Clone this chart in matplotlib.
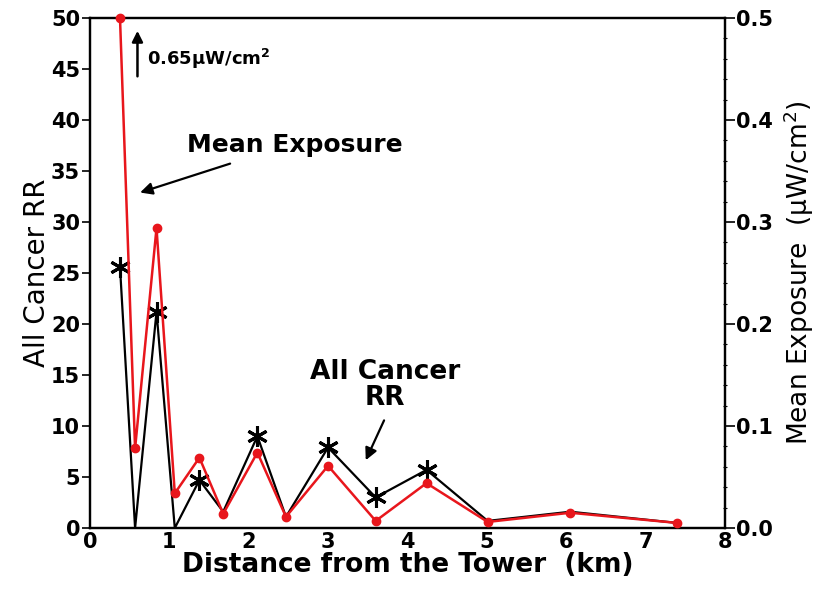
"""
    Gráfico de RR de cáncer y exposición media frente a la distancia a la torre
"""
import numpy as np
import matplotlib.pyplot as plt
from matplotlib.ticker import MultipleLocator

plt.rcParams['font.family'] = ['DejaVu Sans']
plt.rcParams['font.weight'] = 'bold'
plt.rcParams['mathtext.default'] = 'bf'

# Datos
distance_km = [0.38, 0.57, 0.84, 1.07, 1.38, 1.68, 2.11, 2.47, 3.0, 3.6, 4.24, 5.01, 6.05, 7.4]
cancer_rr = [25.6, 0.0, 21.2, 0.0, 4.7, 1.6, 9.0, 1.1, 7.9, 3.0, 5.7, 0.7, 1.6, 0.5]
significant = [True, False, True, False, True, False, True, False, True, True, True, False, False, False]
mean_exposure = [0.65, 0.078, 0.294, 0.034, 0.069, 0.014, 0.074, 0.011, 0.061, 0.007, 0.044, 0.006, 0.015, 0.005]

# Configuración del gráfico
fig = plt.figure(figsize=(8.24, 5.96), dpi=100)
ax = fig.add_axes([0.109, 0.114, 0.771, 0.856])
ax2 = ax.twinx()

# Serie RR (eje izquierdo)
ax.plot(distance_km, cancer_rr, color='black', lw=1.6, zorder=3)
star_x = [d for d, s in zip(distance_km, significant) if s]
star_y = [r for r, s in zip(cancer_rr, significant) if s]
ax.plot(star_x, star_y, linestyle='none', marker=(6, 2, 0), markersize=15,
        color='black', markeredgewidth=2.2, zorder=4)

# Serie exposición (eje derecho), recortada a 0.5
ax2.plot(distance_km, np.clip(mean_exposure, 0, 0.5), color='#e8161c', lw=1.8,
         marker='o', markersize=6, clip_on=False, zorder=5)

ax.set_xlim(0, 8)
ax.set_ylim(0, 50)
ax2.set_ylim(0, 0.5)
ax.set_xticks(range(0, 9))
ax.set_yticks(range(0, 51, 5))
ax2.set_yticks(np.arange(0, 0.51, 0.1))
ax2.set_yticklabels(['0.0', '0.1', '0.2', '0.3', '0.4', '0.5'])
ax2.yaxis.set_minor_locator(MultipleLocator(0.02))

ax.tick_params(axis='x', length=0, labelsize=15, pad=3)
ax.tick_params(axis='y', length=6, width=1.2, labelsize=15, pad=1)
ax2.tick_params(axis='y', which='major', length=7, width=1.2, labelsize=15, pad=1)
ax2.tick_params(axis='y', which='minor', length=3, width=0.8, direction='inout')
for sp in ax2.spines.values():
    sp.set_linewidth(1.6)
for sp in ax.spines.values():
    sp.set_linewidth(1.6)

ax.set_ylabel('All Cancer RR', fontsize=20, fontweight='normal', labelpad=0)
ax.set_xlabel('Distance from the Tower  (km)', fontsize=19, fontweight='bold', labelpad=0)
ax2.set_ylabel('Mean Exposure  (µW/cm$^\\mathregular{2}$)', fontsize=19, fontweight='normal',
               rotation=90, labelpad=6)

# Anotaciones
ax.annotate('', xy=(0.6, 49.0), xytext=(0.6, 44.0),
            arrowprops=dict(arrowstyle='-|>', color='black', lw=1.8, mutation_scale=16))
ax.text(0.72, 46.0, '0.65µW/cm$^\\mathbf{2}$', fontsize=13, fontweight='bold', va='center')

ax.text(1.23, 37.5, 'Mean Exposure', fontsize=18, fontweight='bold', va='center')
ax.annotate('', xy=(0.6, 32.8), xytext=(1.8, 35.8),
            arrowprops=dict(arrowstyle='-|>', color='black', lw=1.6, mutation_scale=18))

ax.text(3.72, 14.0, 'All Cancer\nRR', fontsize=19, fontweight='bold', ha='center',
        va='center', linespacing=1.0)
ax.annotate('', xy=(3.46, 6.4), xytext=(3.72, 10.8),
            arrowprops=dict(arrowstyle='-|>', color='black', lw=1.6, mutation_scale=18))

plt.savefig('out.png', dpi=100)
